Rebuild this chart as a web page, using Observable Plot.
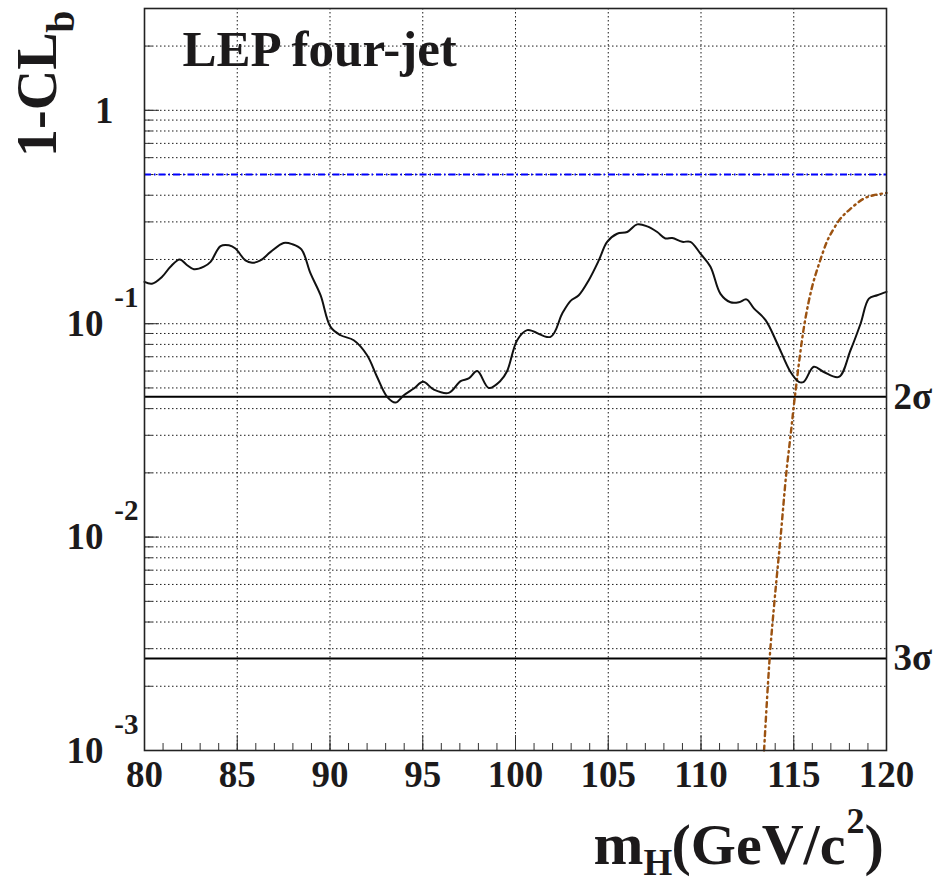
<!DOCTYPE html>
<html>
<head>
<meta charset="utf-8">
<script src="https://cdn.jsdelivr.net/npm/d3@7"></script>
<script src="https://cdn.jsdelivr.net/npm/@observablehq/plot@0.6"></script>
<style>
  html, body { margin: 0; padding: 0; background: #fff; }
  svg { display: block; }
</style>
</head>
<body>
<div id="chart"></div>
<script>
// Observed 1-CLb (solid black)
const obsMass = [80.0, 80.4, 80.95, 81.4, 81.9, 82.3, 82.66, 83.2, 83.56, 84.1, 84.55, 84.9, 85.44, 85.8, 86.25, 86.8, 87.5, 87.96, 88.46, 88.95, 89.49, 90.03, 90.57, 91.28, 92.0, 92.54, 93.08, 93.53, 93.98, 94.52, 95.02, 95.6, 96.4, 97.04, 97.48, 97.94, 98.56, 99.19, 99.55, 100.09, 100.63, 101.89, 102.52, 102.97, 103.41, 103.95, 104.49, 104.94, 105.48, 106.02, 106.56, 107.1, 107.64, 108.08, 108.45, 108.99, 109.43, 109.97, 110.51, 111.05, 111.59, 112.04, 112.45, 112.85, 113.48, 114.11, 114.82, 115.27, 115.54, 116.08, 116.62, 117.43, 118.06, 118.6, 119.05, 119.5, 120.0];
const obsClb = [0.157, 0.154, 0.166, 0.185, 0.200, 0.188, 0.180, 0.185, 0.195, 0.231, 0.233, 0.225, 0.198, 0.193, 0.198, 0.217, 0.239, 0.236, 0.223, 0.172, 0.136, 0.0966, 0.0883, 0.0837, 0.0712, 0.0563, 0.0454, 0.0427, 0.0462, 0.0497, 0.0534, 0.0491, 0.0474, 0.0538, 0.0554, 0.0600, 0.0500, 0.0540, 0.0600, 0.0837, 0.0933, 0.0868, 0.1117, 0.128, 0.136, 0.160, 0.198, 0.242, 0.264, 0.269, 0.292, 0.286, 0.269, 0.251, 0.252, 0.242, 0.242, 0.213, 0.185, 0.138, 0.126, 0.126, 0.130, 0.118, 0.104, 0.0808, 0.0595, 0.0534, 0.0534, 0.0628, 0.0594, 0.0563, 0.0751, 0.100, 0.131, 0.136, 0.141];

// Expected for signal+background (brown dash-dot-dot)
const expMass = [113.40, 113.70, 113.96, 114.29, 114.60, 114.83, 115.06, 115.58, 116.00, 116.40, 116.76, 116.98, 117.52, 117.97, 118.76, 119.30, 120.00];
const expClb = [0.001, 0.0027, 0.005, 0.01, 0.02, 0.03, 0.0455, 0.1, 0.15, 0.195, 0.239, 0.262, 0.311, 0.34, 0.385, 0.40, 0.41];

// Reference levels
const bgLevel = [0.5];
const sigmaLevels = [0.0455, 0.0027];
const sigmaLabels = ["2σ", "3σ"];

// Axes
const xLabelTicks = [80, 85, 90, 95, 100, 105, 110, 115, 120];
const xGrid = [85, 90, 95, 100, 105, 110, 115];
const xMinorTicks = d3.range(80, 121, 1);
const yMajor = [1, 0.1, 0.01, 0.001];
const yExpLabels = ["", "-1", "-2", "-3"];
const yDomain = [0.001, 3];
const xDomain = [80, 120];

const title = "LEP four-jet";

const obs = obsMass.map((m, i) => ({m, v: obsClb[i]}));
const exp = expMass.map((m, i) => ({m, v: expClb[i]}));
const yMinor = d3.scaleLog().domain(yDomain).ticks().filter(v => v > yDomain[0] * 1.0001 && v < yDomain[1] * 0.9999);

const FF = "Liberation Serif, Times New Roman, serif";
const INK = "#1c1a1b";
const grid = {stroke: "#000", strokeOpacity: 0.9, strokeWidth: 1, strokeDasharray: "1.5,2.5"};
const lbl = {fontFamily: FF, fontWeight: "bold", fill: INK};

const chart = Plot.plot({
  width: 938,
  height: 883,
  marginLeft: 144,
  marginRight: 52,
  marginTop: 8,
  marginBottom: 133,
  x: {domain: xDomain},
  y: {type: "log", domain: yDomain},
  style: {fontFamily: FF, background: "#fff", color: INK},
  marks: [
    // grid
    Plot.ruleY(yMinor, {y: d => d, ...grid}),
    Plot.ruleX(xGrid, {x: d => d, ...grid}),
    // ticks (inward)
    Plot.axisX({ticks: xMinorTicks, tickSize: -7, tickFormat: () => "", label: null, stroke: "#333"}),
    Plot.axisX({ticks: xLabelTicks, tickSize: -15, tickFormat: () => "", label: null, stroke: "#333"}),
    Plot.axisY({ticks: yMinor, tickSize: -8, tickFormat: () => "", label: null, stroke: "#333"}),
    Plot.axisY({ticks: yMajor, tickSize: -15, tickFormat: () => "", label: null, stroke: "#333"}),
    // x tick labels
    Plot.axisX({ticks: xLabelTicks, tickSize: 0, tickPadding: 10, fontSize: 37, fontWeight: "bold", fontFamily: FF, label: null, fill: INK}),
    // reference lines
    Plot.ruleY(bgLevel, {y: d => d, stroke: "#0000ff", strokeWidth: 2, strokeDasharray: "7,3,1.5,3"}),
    Plot.ruleY(sigmaLevels, {y: d => d, stroke: "#000", strokeWidth: 2}),
    // expected curve
    Plot.line(exp, {x: "m", y: "v", stroke: "#9c5210", strokeWidth: 2.4, strokeDasharray: "5,4,1.5,4", curve: "catmull-rom"}),
    // observed curve
    Plot.line(obs, {x: "m", y: "v", stroke: "#111", strokeWidth: 2, curve: "catmull-rom"}),
    // frame
    Plot.frame({stroke: "#222", strokeWidth: 1.6}),
    // y tick labels
    Plot.text([yMajor[0]], {y: d => d, text: () => "1", frameAnchor: "left", dx: -31, dy: 13, textAnchor: "end", lineAnchor: "bottom", fontSize: 37, ...lbl}),
    Plot.text(yMajor.slice(1), {y: d => d, text: () => "10", frameAnchor: "left", dx: -41, dy: 12, textAnchor: "end", lineAnchor: "bottom", fontSize: 37, ...lbl}),
    Plot.text(yMajor.slice(1), {y: d => d, text: (d, i) => yExpLabels[i + 1], frameAnchor: "left", dx: -6, dy: -17, textAnchor: "end", lineAnchor: "bottom", fontSize: 29, ...lbl}),
    // sigma labels
    Plot.text(sigmaLevels, {y: d => d, text: (d, i) => sigmaLabels[i], frameAnchor: "right", dx: 7, textAnchor: "start", lineAnchor: "middle", fontSize: 37, ...lbl}),
    // title
    Plot.text([title], {text: d => d, frameAnchor: "top-left", dx: 38, dy: 57, textAnchor: "start", lineAnchor: "bottom", fontSize: 51, ...lbl}),
    // y axis label 1-CL_b (rotated)
    Plot.text(["1-CL"], {text: d => d, frameAnchor: "top-left", dx: -89, dy: 24, rotate: -90, textAnchor: "end", lineAnchor: "bottom", fontSize: 56, ...lbl}),
    Plot.text(["b"], {text: d => d, frameAnchor: "top-left", dx: -71, dy: 2, rotate: -90, textAnchor: "end", lineAnchor: "bottom", fontSize: 40, ...lbl}),
    // x axis label m_H(GeV/c^2)
    Plot.text(["m"], {text: d => d, frameAnchor: "bottom-left", dx: 449, dy: 113, textAnchor: "start", lineAnchor: "bottom", fontSize: 60, ...lbl}),
    Plot.text(["H"], {text: d => d, frameAnchor: "bottom-left", dx: 499, dy: 124, textAnchor: "start", lineAnchor: "bottom", fontSize: 37, ...lbl}),
    Plot.text(["(GeV/c"], {text: d => d, frameAnchor: "bottom-left", dx: 527, dy: 113, textAnchor: "start", lineAnchor: "bottom", fontSize: 58, ...lbl}),
    Plot.text(["2"], {text: d => d, frameAnchor: "bottom-left", dx: 702, dy: 82, textAnchor: "start", lineAnchor: "bottom", fontSize: 36, ...lbl}),
    Plot.text([")"], {text: d => d, frameAnchor: "bottom-left", dx: 720, dy: 113, textAnchor: "start", lineAnchor: "bottom", fontSize: 58, ...lbl})
  ]
});
document.getElementById("chart").appendChild(chart);
</script>
</body>
</html>
